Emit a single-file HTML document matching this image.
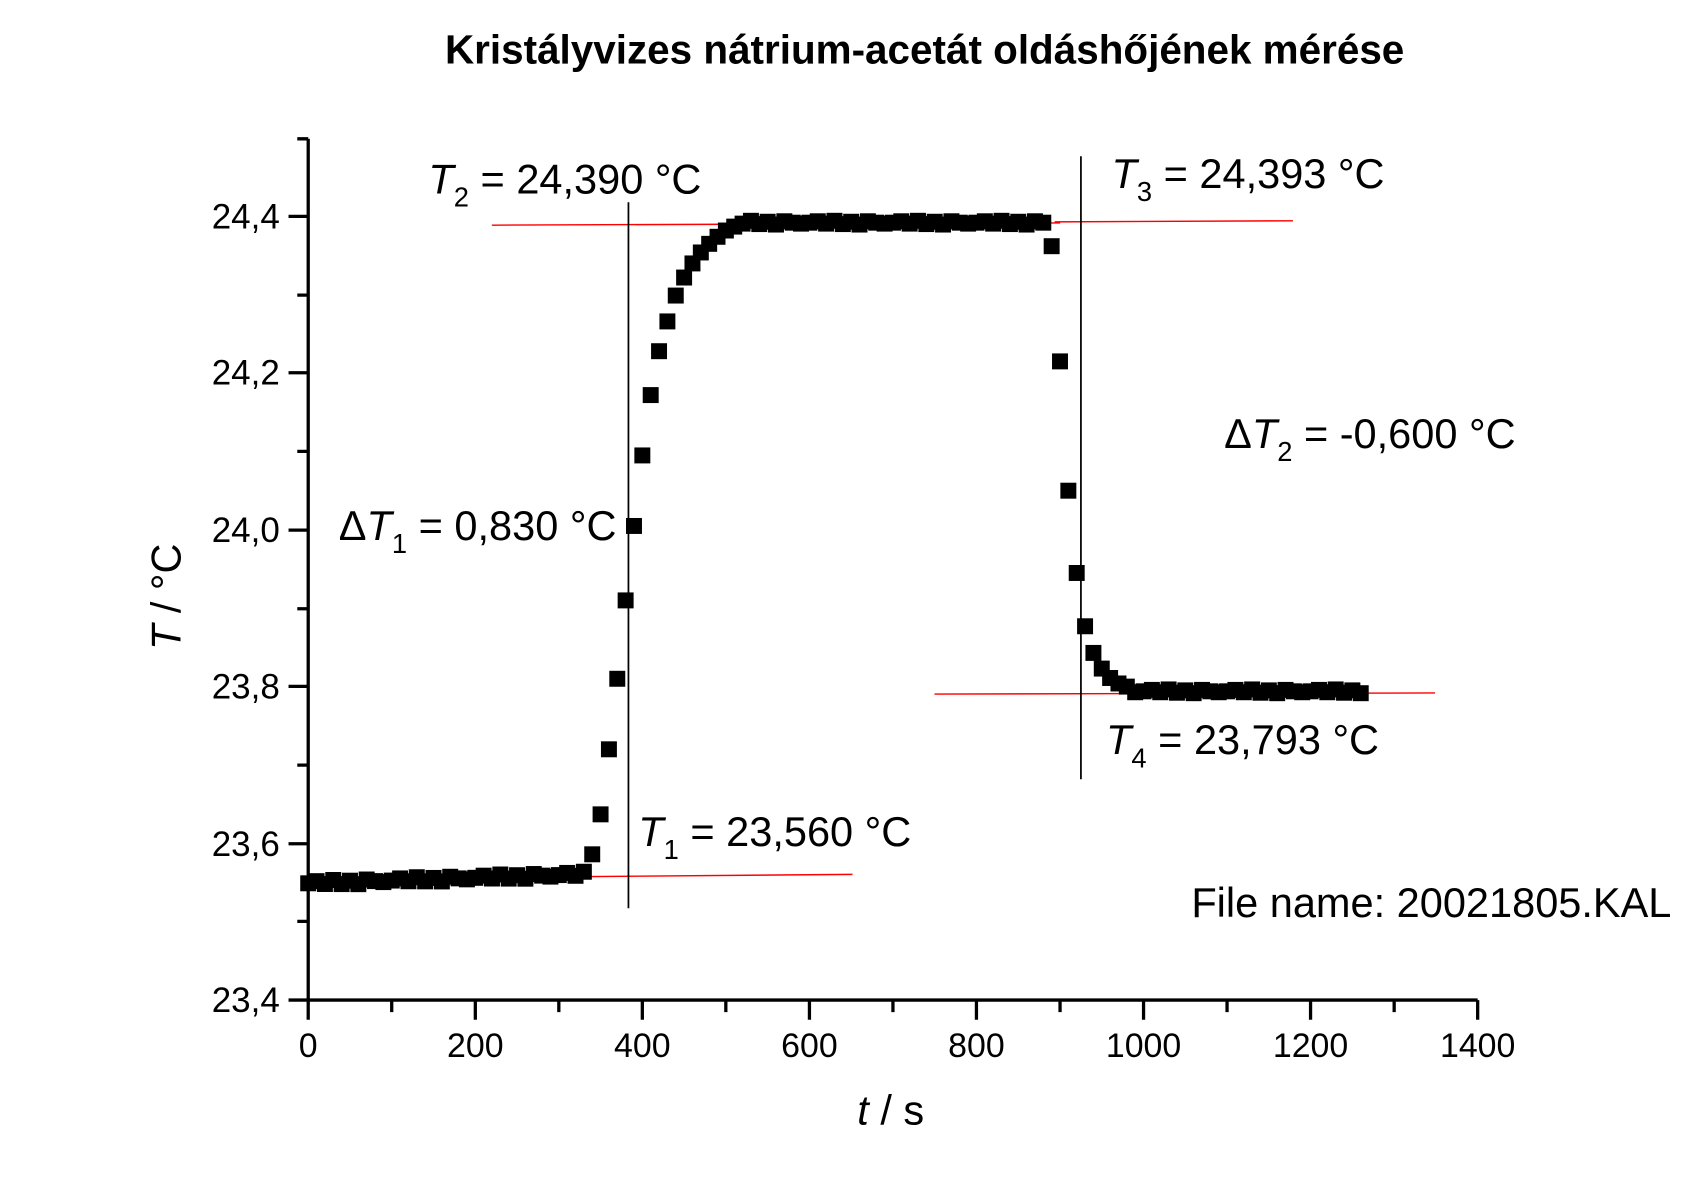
<!DOCTYPE html>
<html><head><meta charset="utf-8"><style>
html,body{margin:0;padding:0;background:#fff;}
svg{display:block;}
text{font-family:"Liberation Sans",Arial,sans-serif;fill:#000;}
</style></head><body>
<svg id="s" width="1705" height="1192" viewBox="0 0 1560 1090.6" preserveAspectRatio="none" xmlns="http://www.w3.org/2000/svg">
<rect width="1560" height="1091" fill="#fff"/>
<text x="846" y="58" font-size="37" font-weight="bold" text-anchor="middle">Kristályvizes nátrium-acetát oldáshőjének mérése</text>
<g stroke="#000" stroke-width="3" fill="none">
<path d="M282 127 V915 H1352"/>
<path d="M272 127H282 M264 198H282 M272 270H282 M264 341H282 M272 413H282 M264 485H282 M272 557H282 M264 628H282 M272 700H282 M264 772H282 M272 843H282 M264 915H282"/>
<path d="M282 915V933 M358.4 915V926 M434.9 915V933 M511.3 915V926 M587.7 915V933 M664.1 915V926 M740.6 915V933 M817 915V926 M893.4 915V933 M969.9 915V926 M1046.3 915V933 M1122.7 915V926 M1199.1 915V933 M1275.6 915V926 M1352 915V933"/>
</g>
<g font-size="32" text-anchor="end">
<text x="256" y="209">24,4</text><text x="256" y="352">24,2</text><text x="256" y="496">24,0</text>
<text x="256" y="639">23,8</text><text x="256" y="783">23,6</text><text x="256" y="926">23,4</text>
</g>
<g font-size="31" text-anchor="middle">
<text x="282" y="967">0</text><text x="434.9" y="967">200</text><text x="587.7" y="967">400</text>
<text x="740.6" y="967">600</text><text x="893.4" y="967">800</text><text x="1046.3" y="967">1000</text>
<text x="1199.1" y="967">1200</text><text x="1352" y="967">1400</text>
</g>
<text x="815" y="1029" font-size="38" text-anchor="middle"><tspan font-style="italic">t</tspan> / s</text>
<text transform="translate(165,546) rotate(-90)" font-size="38" text-anchor="middle"><tspan font-style="italic">T</tspan> / °C</text>
<g stroke="#f00" stroke-width="1.3">
<line x1="296" y1="804" x2="780" y2="800"/>
<line x1="450" y1="206" x2="970" y2="204"/>
<line x1="965" y1="203" x2="1183" y2="202"/>
<line x1="855" y1="635" x2="1313" y2="634"/>
</g>
<g stroke="#000" stroke-width="1.6">
<line x1="575" y1="185" x2="575" y2="831"/>
<line x1="989" y1="143" x2="989" y2="713"/>
</g>
<g id="pts" fill="#000"></g>
<g font-size="38">
<text x="392" y="177"><tspan font-style="italic">T</tspan><tspan font-size="25" dy="12">2</tspan><tspan dy="-12"> = 24,390 °C</tspan></text>
<text x="1017" y="172"><tspan font-style="italic">T</tspan><tspan font-size="25" dy="12">3</tspan><tspan dy="-12"> = 24,393 °C</tspan></text>
<text x="1120" y="410">Δ<tspan font-style="italic">T</tspan><tspan font-size="25" dy="12">2</tspan><tspan dy="-12"> = -0,600 °C</tspan></text>
<text x="310" y="494">Δ<tspan font-style="italic">T</tspan><tspan font-size="25" dy="12">1</tspan><tspan dy="-12"> = 0,830 °C</tspan></text>
<text x="1012" y="690"><tspan font-style="italic">T</tspan><tspan font-size="25" dy="12">4</tspan><tspan dy="-12"> = 23,793 °C</tspan></text>
<text x="584" y="774"><tspan font-style="italic">T</tspan><tspan font-size="25" dy="12">1</tspan><tspan dy="-12"> = 23,560 °C</tspan></text>
<text x="1090" y="839">File name: 20021805.KAL</text>
</g>
</svg>
<script>
(function(){
var g=document.getElementById('pts'),ns='http://www.w3.org/2000/svg';
function X(t){return 282+t*1070/1400;}
function Y(T){return 915-(T-23.4)*717;}
var rise={340:23.586,350:23.637,360:23.72,370:23.81,380:23.91,390:24.005,400:24.095,410:24.172,420:24.228,430:24.266,440:24.299,450:24.322,460:24.34,470:24.354,480:24.365,490:24.374,500:24.382,510:24.387};
var drop={890:24.362,900:24.215,910:24.05,920:23.945,930:23.877,940:23.843,950:23.823,960:23.811,970:23.804,980:23.8};
var jit=[0,.003,-.002,.004,-.003,.002,-.004,.003,0,-.002];
for(var i=0;i<=126;i++){
 var t=i*10,T;
 if(t<340)T=23.549+t*0.000035+jit[i%10]*0.8;
 else if(rise[t])T=rise[t];
 else if(t<890)T=24.392+jit[i%10]*0.6;
 else if(drop[t])T=drop[t];
 else T=23.794+jit[i%10]*0.6;
 var r=document.createElementNS(ns,'rect');
 r.setAttribute('x',X(t)-7.3);r.setAttribute('y',Y(T)-7.3);
 r.setAttribute('width',14.6);r.setAttribute('height',14.6);
 g.appendChild(r);
}
})();
</script>
</body></html>
